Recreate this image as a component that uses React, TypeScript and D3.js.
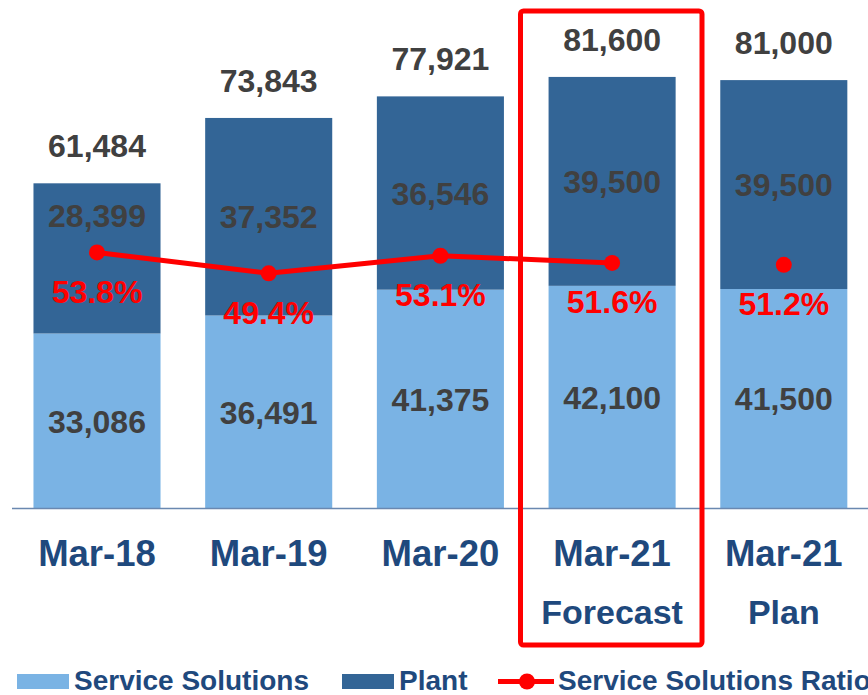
import React from "react";
import * as d3 from "d3";

const categories = ["Mar-18", "Mar-19", "Mar-20", "Mar-21", "Mar-21"];
const subLabels = ["", "", "", "Forecast", "Plan"];
const serviceSolutions = [33086, 36491, 41375, 42100, 41500];
const plant = [28399, 37352, 36546, 39500, 39500];
const totals = [61484, 73843, 77921, 81600, 81000];
const ratio = [53.8, 49.4, 53.1, 51.6, 51.2];
const ratioLabels = ["53.8%", "49.4%", "53.1%", "51.6%", "51.2%"];
const linePointCount = 4; // line connects actual + forecast points only

const W = 868;
const H = 695;
const LIGHT = "#7ab3e4";
const DARK = "#336596";
const GRAY = "#404040";
const NAVY = "#1f497d";
const RED = "#ff0000";
const FONT = "'Liberation Sans', Arial, sans-serif";

export default function App() {
  const keys = categories.map((c, i) => `${c}-${i}`);
  const x = d3
    .scaleBand<string>()
    .domain(keys)
    .range([11.15, 869.65])
    .paddingInner(0.26)
    .paddingOuter(0.13);
  const y = d3.scaleLinear().domain([0, 90000]).range([508.5, 32.5]);
  const yr = d3.scaleLinear().domain([0, 100]).range([508.5, 32.5]);
  const bw = x.bandwidth();
  const cx = (i: number) => (x(keys[i]) as number) + bw / 2;

  const line = d3
    .line<number>()
    .x((_, i) => cx(i))
    .y((d) => yr(d));

  const fmt = d3.format(",");

  return (
    <svg
      width={W}
      height={H}
      style={{ position: "absolute", left: 0, top: 0, background: "#fff" }}
      fontFamily={FONT}
      fontWeight="bold"
    >
      {/* bars */}
      {keys.map((k, i) => {
        const x0 = x(k) as number;
        const ssTop = y(serviceSolutions[i]);
        const totTop = y(serviceSolutions[i] + plant[i]);
        return (
          <g key={k}>
            <rect x={x0} y={ssTop} width={bw} height={y(0) - ssTop} fill={LIGHT} />
            <rect x={x0} y={totTop} width={bw} height={ssTop - totTop} fill={DARK} />
          </g>
        );
      })}

      {/* axis line */}
      <line x1={12} x2={W} y1={y(0)} y2={y(0)} stroke="#6a88b0" strokeWidth={1.5} />

      {/* labels on bars */}
      {keys.map((k, i) => {
        const ssTop = y(serviceSolutions[i]);
        const totTop = y(serviceSolutions[i] + plant[i]);
        const ssMid = (ssTop + y(0)) / 2;
        let plMid = (ssTop + totTop) / 2;
        const py = yr(ratio[i]);
        if (Math.abs(plMid - py) < 30) plMid = py - 37;
        return (
          <g key={k} textAnchor="middle" fontSize={32}>
            <text x={cx(i)} y={totTop - 26} fill={GRAY}>
              {fmt(totals[i])}
            </text>
            <text x={cx(i)} y={plMid} dy="0.36em" fill={GRAY}>
              {fmt(plant[i])}
            </text>
            <text x={cx(i)} y={ssMid} dy="0.36em" fill={GRAY}>
              {fmt(serviceSolutions[i])}
            </text>
          </g>
        );
      })}

      {/* ratio line */}
      <path
        d={line(ratio.slice(0, linePointCount)) || ""}
        fill="none"
        stroke={RED}
        strokeWidth={5}
        strokeLinejoin="round"
      />
      {ratio.map((r, i) => (
        <g key={i}>
          <circle cx={cx(i)} cy={yr(r)} r={8} fill={RED} />
          <text
            x={cx(i)}
            y={yr(r) + 50.5}
            textAnchor="middle"
            fontSize={32}
            fill={RED}
          >
            {ratioLabels[i]}
          </text>
        </g>
      ))}

      {/* category labels */}
      {keys.map((k, i) => (
        <g key={k} textAnchor="middle" fill={NAVY}>
          <text x={cx(i)} y={566} fontSize={36.5}>
            {categories[i]}
          </text>
          {subLabels[i] && (
            <text x={cx(i)} y={624} fontSize={34}>
              {subLabels[i]}
            </text>
          )}
        </g>
      ))}

      {/* forecast highlight box */}
      <rect
        x={520.5}
        y={11}
        width={181.5}
        height={634}
        rx={3}
        fill="none"
        stroke={RED}
        strokeWidth={5}
      />

      {/* legend */}
      <g fontSize={28} fill={NAVY}>
        <rect x={17} y={674} width={52} height={15} fill={LIGHT} />
        <text x={74} y={690}>Service Solutions</text>
        <rect x={342} y={674} width={52} height={15} fill={DARK} />
        <text x={399} y={690}>Plant</text>
        <line x1={498} x2={554} y1={681.5} y2={681.5} stroke={RED} strokeWidth={5} />
        <circle cx={527} cy={681.5} r={8} fill={RED} />
        <text x={558} y={690}>Service Solutions Ratio</text>
      </g>
    </svg>
  );
}
